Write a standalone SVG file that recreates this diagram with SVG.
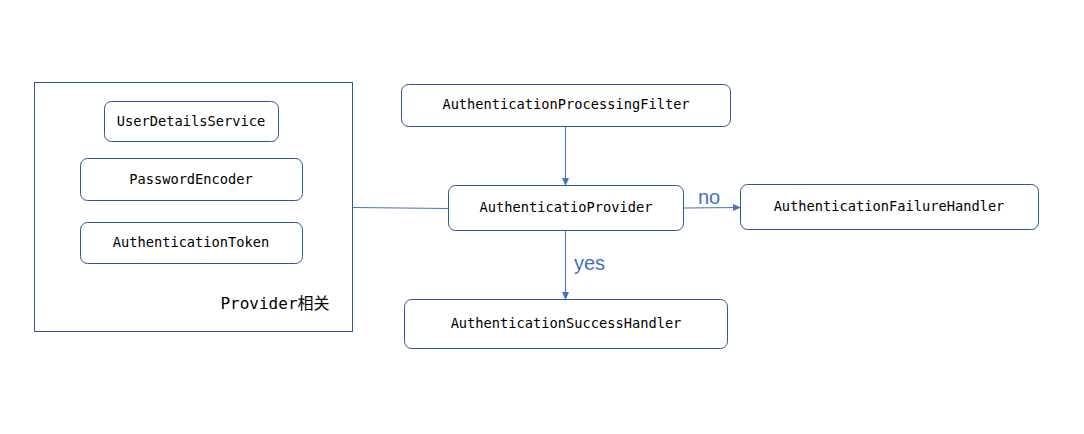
<svg xmlns="http://www.w3.org/2000/svg" width="1084" height="434" viewBox="0 0 1084 434">
<style>
.box{fill:#fff;stroke:#2F5597;stroke-width:1}
.t{font-family:"DejaVu Sans Mono","Liberation Mono",monospace;font-size:13.7px;fill:#000;text-anchor:middle}
.c{stroke:#4472C4;stroke-width:1;fill:none}
.lbl{font-family:"Liberation Sans",Arial,sans-serif;font-size:20px;fill:#4472C4}
</style>
<defs>
<marker id="ah" markerWidth="8" markerHeight="8" refX="7" refY="4" orient="auto" markerUnits="userSpaceOnUse">
<path d="M0,0.5 L8,4 L0,7.5 Z" fill="#4472C4"/>
</marker>
</defs>
<rect width="1084" height="434" fill="#fff"/>
<g id="provider-group">
<rect class="box" x="34.5" y="82.5" width="318" height="249"/>
<text x="275" y="309" font-family="'DejaVu Sans Mono','Noto Sans CJK SC',monospace" font-size="16" text-anchor="middle">Provider相关</text>
</g>
<g id="uds"><rect class="box" x="104.5" y="101.5" width="174" height="40" rx="7"/><text class="t" x="191" y="126">UserDetailsService</text></g>
<g id="pe"><rect class="box" x="80.5" y="158.5" width="222" height="42" rx="7"/><text class="t" x="191" y="184">PasswordEncoder</text></g>
<g id="at"><rect class="box" x="80.5" y="222.5" width="222" height="41" rx="7"/><text class="t" x="191" y="247">AuthenticationToken</text></g>
<g id="apf"><rect class="box" x="401.5" y="84.5" width="329" height="42" rx="7"/><text class="t" x="566" y="109">AuthenticationProcessingFilter</text></g>
<g id="ap"><rect class="box" x="448.5" y="185.5" width="235" height="45" rx="7"/><text class="t" x="566" y="212">AuthenticatioProvider</text></g>
<g id="afh"><rect class="box" x="740.5" y="184.5" width="298" height="45" rx="7"/><text class="t" x="889" y="211">AuthenticationFailureHandler</text></g>
<g id="ash"><rect class="box" x="404.5" y="299.5" width="323" height="49" rx="7"/><text class="t" x="566" y="328">AuthenticationSuccessHandler</text></g>
<g id="connectors">
<line class="c" x1="352.5" y1="207.5" x2="448.5" y2="208.5"/>
<line class="c" x1="565.5" y1="127" x2="565.5" y2="185" marker-end="url(#ah)"/>
<line class="c" x1="565.5" y1="231" x2="565.5" y2="299" marker-end="url(#ah)"/>
<line class="c" x1="684" y1="208" x2="740" y2="207.5" marker-end="url(#ah)"/>
<text class="lbl" x="698" y="204">no</text>
<text class="lbl" x="574" y="270">yes</text>
</g>
</svg>
